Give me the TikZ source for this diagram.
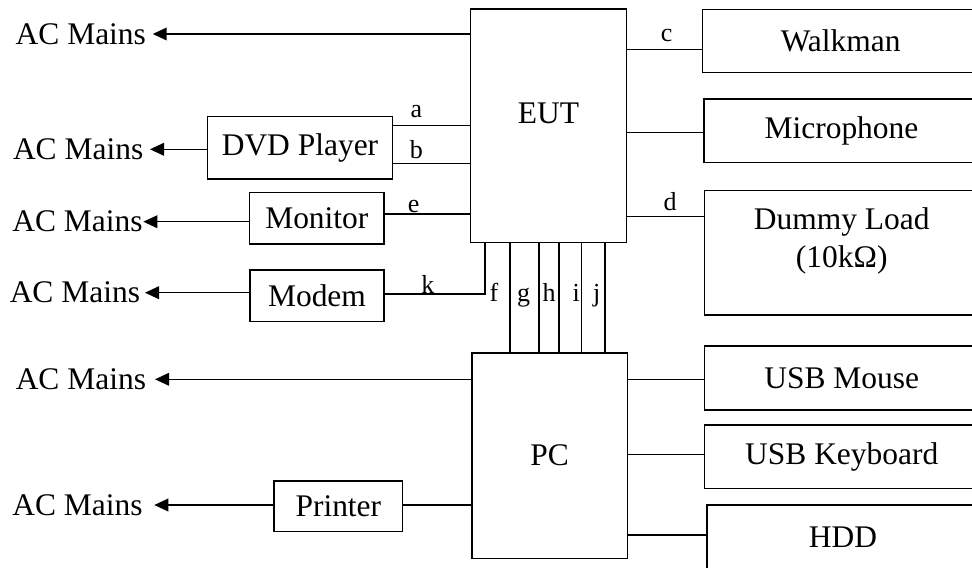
\documentclass[tikz,border=0pt]{standalone}
\usepackage{fontspec}
\setmainfont{Liberation Serif}
\usetikzlibrary{arrows.meta, positioning}

\begin{document}
\begin{tikzpicture}[
      x=0.75pt, y=-0.75pt,
      line width=1.1pt,
      font=\fontsize{23.6}{28}\selectfont,
      box/.style={draw, inner sep=0pt, align=center},
      mains/.style={inner ysep=0pt, anchor=east},
      pwr/.style={-{Triangle[length=10.5pt, width=9.5pt]}},
      lbl/.style={font=\fontsize{19.5}{22}\selectfont, inner sep=0pt}]
    \useasboundingbox (0,0) rectangle (972,568);
    \clip (0,0) rectangle (972,568);
    % units under test
    \node[box, minimum width=117pt, minimum height=175.3pt] (eut) at (548.5,125.85) {};
    \node at ([yshift=9.6pt]eut.center) {EUT};
    \node[box, minimum width=116.5pt, minimum height=154pt] (pc) at (549.65,455.65) {PC};
    % left side
    \node[box, minimum width=139pt, minimum height=46.7pt] (dvd) at (300,147.85) {DVD Player};
    \node[box, minimum width=100.7pt, minimum height=38.5pt] (mon) at (316.85,218.35) {Monitor};
    \node[box, minimum width=100.5pt, minimum height=38.8pt] (mod) at (317,295.85) {Modem};
    \node[box, minimum width=96.5pt, minimum height=38pt] (prn) at (338.35,506.35) {Printer};
    % right side
    \node[box, minimum width=207.5pt, minimum height=47.5pt] (walk) at (840.65,41) {Walkman};
    \node[box, minimum width=206.2pt, minimum height=47.8pt] (mic) at (841.5,130.85) {Microphone};
    \node[box, minimum width=205.9pt, minimum height=93.2pt] (dummy) at (841.75,252.85) {};
    \node[align=center] at ([yshift=9pt]dummy.center) {Dummy Load\\[1pt](10kΩ)};
    \node[box, minimum width=205.9pt, minimum height=48pt] (mouse) at (841.75,378) {USB Mouse};
    \node[box, minimum width=205.9pt, minimum height=47.5pt] (kbd) at (841.75,456.65) {USB Keyboard};
    \node[box, minimum width=204pt, minimum height=48pt] (hdd) at (843,537) {HDD};
    % mains supplies
    \foreach \n/\src/\x/\y/\s in {1/eut/152.7/34/4.5pt, 2/dvd/150/149.3/4.5pt, 3/mon/143.3/221.7/0pt,
        4/mod/145/292.7/3.2pt, 5/pc/155/379.3/6.2pt, 6/prn/154.3/505/8.2pt} {
      \node[mains, inner xsep=\s] (m\n) at (\x,\y) {AC Mains};
      \draw[pwr] (\src.west |- m\n) -- (m\n.east);
    }
    % cables to EUT
    \draw (dvd.east |- 0,125.7) -- node[lbl, above=5.5pt, pos=0.3] {a} (eut.west |- 0,125.7);
    \draw (dvd.east |- 0,163.3) -- node[lbl, above=2.5pt, pos=0.3] {b} (eut.west |- 0,163.3);
    \draw (mon.east |- 0,214) -- node[lbl, above=0.5pt, pos=0.34] {e} (eut.west |- 0,214);
    \draw (mod.east |- 0,294) -- node[lbl, above=0pt, pos=0.43] {k} (485,294) -- (485,0 |- eut.south);
    \draw (eut.east |- 0,49.3) -- node[lbl, above=5pt, pos=0.53] {c} (walk.west |- 0,49.3);
    \draw (eut.east |- 0,132.7) -- (mic.west |- 0,132.7);
    \draw (eut.east |- 0,216.7) -- node[lbl, above=3.75pt, pos=0.56] {d} (dummy.west |- 0,216.7);
    \foreach \n/\x/\lx in {f/510/494, g/539/523.7, h/559/549, i/581.7/576.3, j/605/596.7} {
      \draw (\x,0 |- eut.south) -- (\x,0 |- pc.north);
      \node[lbl, anchor=base] (l\n) at (\lx,301) {\n};
    }
    % cables to PC
    \draw (prn.east |- 0,505) -- (pc.west |- 0,505);
    \draw (pc.east |- 0,379.3) -- (mouse.west |- 0,379.3);
    \draw (pc.east |- 0,454.3) -- (kbd.west |- 0,454.3);
    \draw (pc.east |- 0,535) -- (hdd.west |- 0,535);
  \end{tikzpicture}
\end{document}
